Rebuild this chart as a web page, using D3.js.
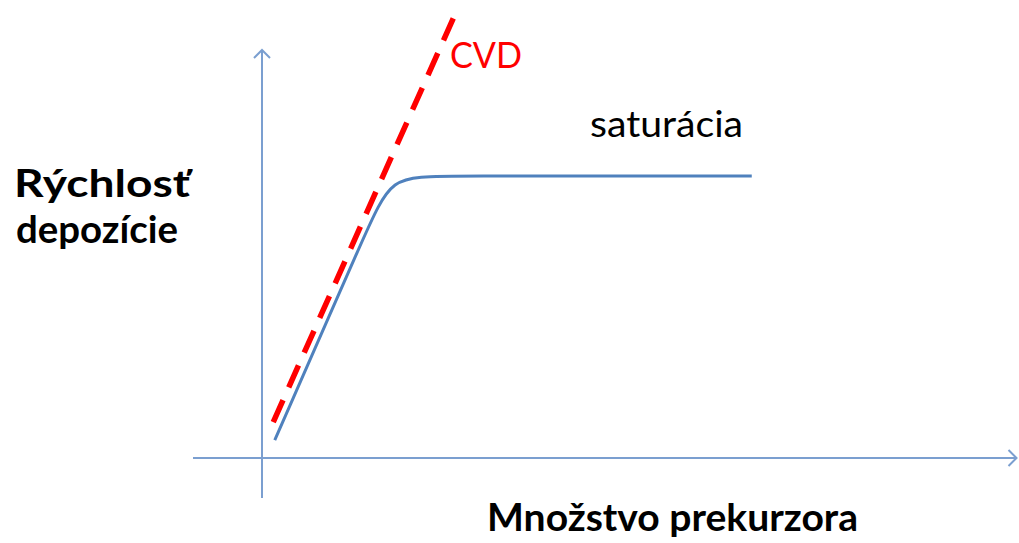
<!DOCTYPE html>
<html>
<head>
<meta charset="utf-8">
<script src="https://cdn.jsdelivr.net/npm/d3@7"></script>
<style>
  body { margin: 0; background: #fff; }
  svg { display: block; }
</style>
</head>
<body>
<svg width="1019" height="543"></svg>
<script>
const svg = d3.select('svg');

// deposition rate vs. precursor amount (arbitrary units, 0..100)
const saturationX = [1.7, 14.0, 17.2, 23.7, 65.3];
const saturationY = [4.4, 55.9, 69.1, 69.1, 69.1];
const cvdX = [1.5, 26.0];
const cvdY = [8.8, 109.8];
const xAxisExtent = [-9.2, 100.6];
const yAxisExtent = [-9.8, 100];

const x = d3.scaleLinear().domain([0, 100]).range([262, 1012]);
const y = d3.scaleLinear().domain([0, 100]).range([458, 50]);

const axisColor = '#7b9fd0';

// axes with open arrowheads
svg.append('line')
  .attr('x1', x(xAxisExtent[0])).attr('x2', x(xAxisExtent[1]))
  .attr('y1', y(0)).attr('y2', y(0))
  .attr('stroke', axisColor).attr('stroke-width', 2);
svg.append('line')
  .attr('x1', x(0)).attr('x2', x(0))
  .attr('y1', y(yAxisExtent[0])).attr('y2', y(yAxisExtent[1]))
  .attr('stroke', axisColor).attr('stroke-width', 2);

const xt = x(xAxisExtent[1]), yt = y(yAxisExtent[1]);
svg.append('path')
  .attr('d', `M${xt - 8},${y(0) - 8}L${xt},${y(0)}L${xt - 8},${y(0) + 8}`)
  .attr('fill', 'none').attr('stroke', axisColor).attr('stroke-width', 2);
svg.append('path')
  .attr('d', `M${x(0) - 8},${yt + 8}L${x(0)},${yt}L${x(0) + 8},${yt + 8}`)
  .attr('fill', 'none').attr('stroke', axisColor).attr('stroke-width', 2);

const line = d3.line()
  .x(d => x(d[0]))
  .y(d => y(d[1]));

svg.append('path')
  .datum(d3.zip(saturationX, saturationY))
  .attr('d', line.curve(d3.curveBasis))
  .attr('fill', 'none')
  .attr('stroke', '#4f81bd')
  .attr('stroke-width', 3);

svg.append('path')
  .datum(d3.zip(cvdX, cvdY))
  .attr('d', line.curve(d3.curveLinear))
  .attr('fill', 'none')
  .attr('stroke', '#ff0000')
  .attr('stroke-width', 5.5)
  .attr('stroke-dasharray', '24,14');

const font = 'Lato, "Open Sans", sans-serif';

const label = (txt, px, py, opts) => svg.append('text')
  .attr('x', px).attr('y', py)
  .attr('font-family', font)
  .attr('font-size', opts.size)
  .attr('font-weight', opts.bold ? 700 : 400)
  .attr('fill', opts.color || '#000')
  .attr('textLength', opts.len)
  .attr('lengthAdjust', 'spacingAndGlyphs')
  .text(txt);

label('CVD', 450, 68, { size: 36, color: '#ff0000', len: 72 });
label('saturácia', 590, 137, { size: 36, len: 153 });
label('Rýchlosť', 14, 197, { size: 38, bold: true, len: 176 });
label('depozície', 16, 243, { size: 38, bold: true, len: 162 });
label('Množstvo prekurzora', 487, 531, { size: 38, bold: true, len: 371 });
</script>
</body>
</html>
